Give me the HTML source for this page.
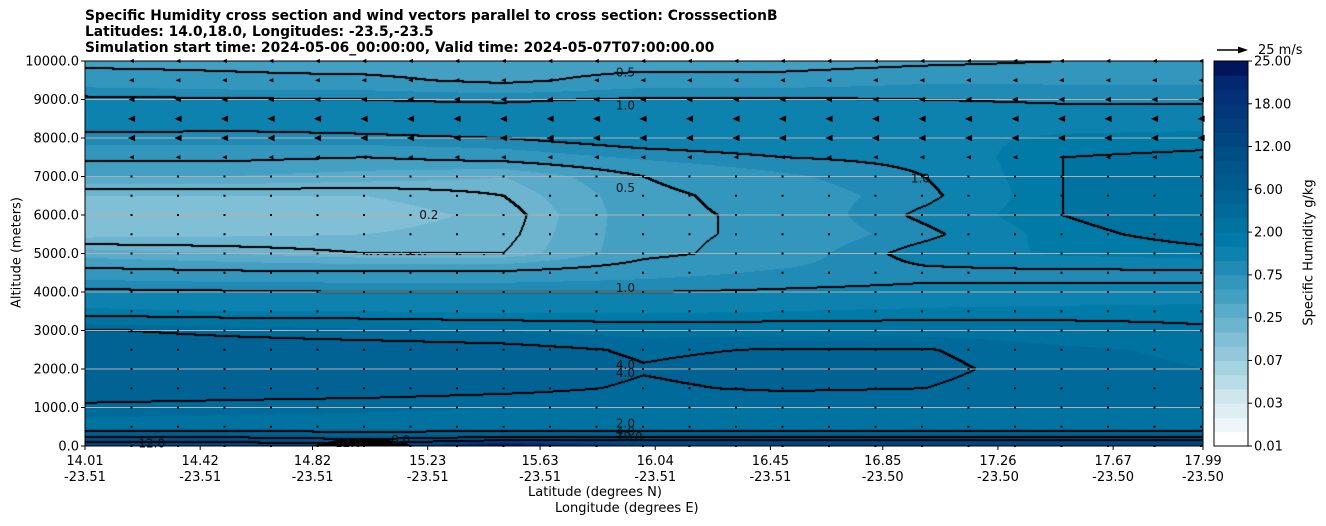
<!DOCTYPE html>
<html><head><meta charset="utf-8">
<style>
body{margin:0;background:#fff;width:1326px;height:526px;overflow:hidden;font-family:"DejaVu Sans","Liberation Sans",sans-serif;}
#wrap{position:relative;width:1326px;height:526px;}
.t{position:absolute;white-space:nowrap;font-size:13px;color:#000;}
canvas{position:absolute;left:85px;top:61px;}
svg{position:absolute;left:0;top:0;}
</style></head><body>
<div id="wrap">
<div class="t" style="left:85px;top:8px;font-weight:bold;line-height:16px;font-size:13.8px;">Specific Humidity cross section and wind vectors parallel to cross section: CrosssectionB<br>Latitudes: 14.0,18.0, Longitudes: -23.5,-23.5<br>Simulation start time: 2024-05-06_00:00:00, Valid time: 2024-05-07T07:00:00.00</div>
<canvas id="cv" width="1118" height="385"></canvas>
<svg id="sv" width="1326" height="526"></svg>
<div class="t" style="left:-43px;top:245px;transform:rotate(-90deg);width:120px;text-align:center;">Altitude (meters)</div>
<div class="t" style="left:528px;top:485px;">Latitude (degrees N)</div>
<div class="t" style="left:555px;top:501px;">Longitude (degrees E)</div>
<div class="t" style="left:1224px;top:245px;transform:rotate(-90deg);width:170px;text-align:center;">Specific Humidity g/kg</div>
<div class="t" style="left:1258px;top:43px;">25 m/s</div>
</div>
<script>
const levels=[0.01,0.015,0.02,0.03,0.04,0.05,0.07,0.1,0.15,0.25,0.35,0.5,0.75,1.0,1.5,2,3,4,6,8,10,12,14,16,18,20,22,25];
const bandColors=["#ffffff","#eef6f9","#deeef4","#cfe6ee","#b8dde7","#a6d3e1","#93c8dc","#80bfd5","#6db4cf","#5aaac9","#44a0c3","#3396bd","#218bb5","#0d82ae","#007ba7","#0073a0","#006b9a","#006394","#005c8e","#00558a","#004e86","#004782","#033f7e","#03377a","#033076","#022870","#02145c"];
const contourLevels=[0.2,0.5,1,2,4,8,12];
const colLats=[14.01,14.51,15.01,15.50,16.00,16.50,17.00,17.49,17.99];
const rowAlts=[0,150,300,500,1000,1500,2000,2500,3000,3500,4000,4500,5000,5500,6000,6500,7000,7500,8000,8500,9000,9500,10000];
const q=[
[15,15,14,30,15,15,15,15,15],
[11,11,9,12,12,12,12,12,12],
[6,6,5,6,6,6,6,6,6],
[2.5,2.5,2.5,2.4,2.3,2.3,2.3,2.3,2.3],
[3.6,3.4,3.2,3.0,3.0,3.0,3.0,3.0,3.0],
[5.5,5.2,5.0,4.5,3.8,4.2,4.0,3.3,3.0],
[6.0,5.8,5.5,5.0,4.1,4.6,4.4,3.4,3.0],
[5.5,5.2,5.0,4.6,3.8,4.1,4.1,3.2,2.8],
[4.2,3.6,3.2,3.0,2.6,2.6,2.6,2.4,2.1],
[1.6,1.5,1.5,1.4,1.4,1.5,1.6,1.7,1.8],
[1.1,1.05,1.0,1.0,1.0,1.05,1.1,1.1,1.1],
[0.6,0.55,0.55,0.55,0.65,0.8,0.9,0.9,0.9],
[0.3,0.25,0.2,0.2,0.45,0.6,1.2,1.6,1.8],
[0.13,0.14,0.15,0.18,0.45,0.55,0.9,1.8,2.3],
[0.13,0.14,0.12,0.17,0.45,0.55,1.1,2.0,2.6],
[0.15,0.15,0.15,0.2,0.45,0.6,0.9,2.0,2.6],
[0.35,0.35,0.3,0.25,0.5,0.7,1.0,2.0,2.4],
[0.55,0.55,0.5,0.6,0.8,1.0,1.1,2.0,2.2],
[0.9,0.9,0.95,1.0,1.3,1.4,1.3,1.6,1.7],
[1.3,1.2,1.2,1.3,1.4,1.4,1.3,1.2,1.2],
[1.1,1.05,1.0,0.95,1.05,1.05,1.0,0.95,0.95],
[0.6,0.55,0.55,0.45,0.6,0.6,0.7,0.7,0.7],
[0.45,0.45,0.4,0.4,0.4,0.4,0.45,0.5,0.55]];
const windAlts=[0,500,1000,1500,2000,2500,3000,3500,4000,4500,5000,5500,6000,6500,7000,7500,8000,8500,9000,9500,10000];
const windU=[0,0,-0.3,-0.3,-1.5,-1,0.5,0.5,0.5,0.5,0.5,0.3,0.3,0.5,-2,-4,-6,-6,-5,-4,-4];
const yTicks=[0,1000,2000,3000,4000,5000,6000,7000,8000,9000,10000];
const xTickLat=[14.01,14.42,14.82,15.23,15.63,16.04,16.45,16.85,17.26,17.67,17.99];
const xTickLon=["-23.51","-23.51","-23.51","-23.51","-23.51","-23.51","-23.51","-23.50","-23.50","-23.50","-23.50"];
const cbTicks=["0.01","0.03","0.07","0.25","0.75","2.00","6.00","12.00","18.00","25.00"];
const cLabels=[[15.9,9700,"0.5"],[15.9,8850,"1.0"],[15.9,6700,"0.5"],[15.2,6000,"0.2"],[16.95,6950,"1.0"],[15.9,4100,"1.0"],[15.9,2100,"4.0"],[15.9,1900,"4.0"],[15.9,580,"2.0"],[15.9,380,"4.0"],[15.9,230,"12.0"],[14.2,60,"12.0"],[14.9,80,"12.0"],[15.1,150,"8.0"]];

const X0=85,X1=1203,Y0=446,Y1=61;
const FF='DejaVu Sans, Liberation Sans, sans-serif';
const xs=lat=>X0+(lat-14.01)/(17.99-14.01)*(X1-X0);
const ys=a=>Y0-a/10000*(Y0-Y1);
const NS="http://www.w3.org/2000/svg";
const sv=document.getElementById('sv');
function mk(tag,attrs,parent){const e=document.createElementNS(NS,tag);for(const k in attrs)e.setAttribute(k,attrs[k]);(parent||sv).appendChild(e);return e;}

function val(lat,alt){
  let i=0;while(i<colLats.length-2&&lat>colLats[i+1])i++;
  let j=0;while(j<rowAlts.length-2&&alt>rowAlts[j+1])j++;
  const tx=Math.min(1,Math.max(0,(lat-colLats[i])/(colLats[i+1]-colLats[i])));
  const ty=Math.min(1,Math.max(0,(alt-rowAlts[j])/(rowAlts[j+1]-rowAlts[j])));
  const L=v=>Math.log(v);
  const a=L(q[j][i])*(1-tx)+L(q[j][i+1])*tx;
  const b=L(q[j+1][i])*(1-tx)+L(q[j+1][i+1])*tx;
  return Math.exp(a*(1-ty)+b*ty);
}
const cv=document.getElementById('cv');const ctx=cv.getContext('2d');
const W=1118,H=385;const img=ctx.createImageData(W,H);
const rgb=bandColors.map(c=>[parseInt(c.substr(1,2),16),parseInt(c.substr(3,2),16),parseInt(c.substr(5,2),16)]);
const cidx=new Int8Array(W*H);
for(let y=0;y<H;y++){const alt=(H-0.5-y)/H*10000;
 for(let x=0;x<W;x++){const lat=14.01+(x+0.5)/W*3.98;const v=val(lat,alt);
  let b=0;while(b<bandColors.length-1&&v>=levels[b+1])b++;
  let c=0;while(c<contourLevels.length&&v>=contourLevels[c])c++;cidx[y*W+x]=c;
  const p=(y*W+x)*4;img.data[p]=rgb[b][0];img.data[p+1]=rgb[b][1];img.data[p+2]=rgb[b][2];img.data[p+3]=255;}}
for(let y=0;y<H-1;y++)for(let x=0;x<W-1;x++){const k=y*W+x;
 if(cidx[k]!==cidx[k+1]||cidx[k]!==cidx[k+W]){for(const o of [k,k+1,k+W]){const p=o*4;img.data[p]=0;img.data[p+1]=0;img.data[p+2]=0;}}}
ctx.putImageData(img,0,0);

const m=mk('path',{d:`M${xs(14.82)} 446 Q${xs(15.0)} 430 ${xs(15.18)} 446 Z`,fill:'#000'});


yTicks.forEach(t=>{if(t===0||t===10000)return;const l=mk('line',{x1:X0,x2:X1,y1:ys(t),y2:ys(t),stroke:'#b0b0b0','stroke-width':1});
});

for(let r=0;r<windAlts.length;r++){for(let k=1;k<=24;k++){
 const cx=X0+k*46.5;const cy=ys(windAlts[r]);const u=windU[r];const Lp=Math.abs(u)*1.2;
 let e;
 if(Lp<2.5){e=mk('rect',{x:cx-1,y:cy-1,width:2,height:2,fill:'#000'});}
 else{const d=u<0?-1:1;const tip=cx+d*Lp/2;const hl=Math.min(Lp,8);const base=tip-d*hl;const hh=Math.min(3.2,hl*0.45);
  let pts=`${tip},${cy} ${base},${cy-hh} ${base},${cy+hh}`;
  e=mk('polygon',{points:pts,fill:'#000'});
  if(Lp>8){mk('line',{x1:cx-d*Lp/2,x2:base,y1:cy,y2:cy,stroke:'#000','stroke-width':1.2});}}
 }}

cLabels.forEach(c=>{const t=mk('text',{x:xs(c[0]),y:ys(c[1])+4,'font-size':12,'font-family':FF,fill:'#111'});t.textContent=c[2];
});

const fr=mk('rect',{x:X0,y:Y1,width:X1-X0,height:Y0-Y1,fill:'none',stroke:'#000','stroke-width':1});

yTicks.forEach(t=>{const y=ys(t);mk('line',{x1:X0-4,x2:X0,y1:y,y2:y,stroke:'#000'});
 const tx=mk('text',{x:X0-6,y:y+4.5,'text-anchor':'end','font-size':13,'font-family':FF});tx.textContent=t.toFixed(1);
 });
xTickLat.forEach((t,i)=>{const x=xs(t);mk('line',{x1:x,x2:x,y1:Y0,y2:Y0+4,stroke:'#000'});
 const a=mk('text',{x:x,y:Y0+19,'text-anchor':'middle','font-size':13,'font-family':FF});a.textContent=t.toFixed(2);
 
 const b=mk('text',{x:x,y:Y0+35,'text-anchor':'middle','font-size':13,'font-family':FF});b.textContent=xTickLon[i];
 });

const CB0=1214,CB1=1248,nb=bandColors.length,bh=(Y0-Y1)/nb;
bandColors.forEach((c,i)=>{const r=mk('rect',{x:CB0,y:Y0-(i+1)*bh,width:CB1-CB0,height:bh+0.5,fill:c});
 });
mk('rect',{x:CB0,y:Y1,width:CB1-CB0,height:Y0-Y1,fill:'none',stroke:'#000'});
cbTicks.forEach((t,i)=>{const y=Y0-i*3*bh;mk('line',{x1:CB1,x2:CB1+4,y1:y,y2:y,stroke:'#000'});
 const tx=mk('text',{x:CB1+6,y:y+4.5,'font-size':13,'font-family':FF});tx.textContent=t;
 });

const qk=mk('line',{x1:1217,x2:1240,y1:50,y2:50,stroke:'#000','stroke-width':1.5});

mk('polygon',{points:'1248,50 1238,46.5 1238,53.5',fill:'#000'});
</script>
</body></html>
